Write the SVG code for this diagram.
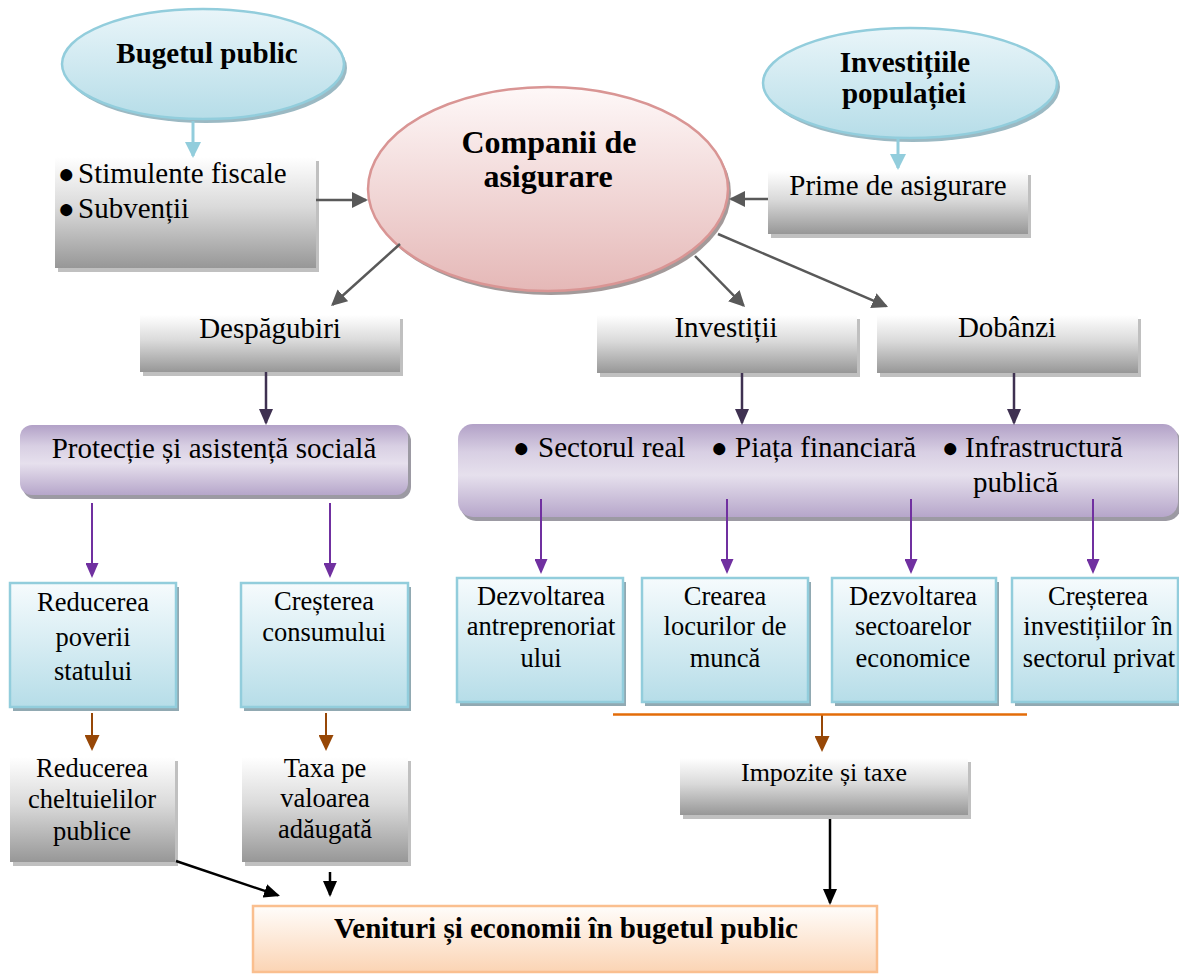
<svg xmlns="http://www.w3.org/2000/svg" width="1179" height="974" viewBox="0 0 1179 974">
  <defs>
    <linearGradient id="gGray" x1="0" y1="0" x2="0" y2="1">
      <stop offset="0" stop-color="#ffffff"/>
      <stop offset="0.45" stop-color="#dadada"/>
      <stop offset="1" stop-color="#979797"/>
    </linearGradient>
    <linearGradient id="gBlue" x1="0" y1="0" x2="0" y2="1">
      <stop offset="0" stop-color="#f6fbfd"/>
      <stop offset="1" stop-color="#b6dde8"/>
    </linearGradient>
    <linearGradient id="gBlueEll" x1="0" y1="0" x2="0" y2="1">
      <stop offset="0" stop-color="#e9f5f9"/>
      <stop offset="1" stop-color="#b6dde8"/>
    </linearGradient>
    <linearGradient id="gPink" x1="0" y1="0" x2="0" y2="1">
      <stop offset="0" stop-color="#fef8f8"/>
      <stop offset="1" stop-color="#e5b8b7"/>
    </linearGradient>
    <linearGradient id="gPurple" x1="0" y1="0" x2="0" y2="1">
      <stop offset="0" stop-color="#b2a1c7"/>
      <stop offset="0.3" stop-color="#d8cfe3"/>
      <stop offset="0.55" stop-color="#e6e0ed"/>
      <stop offset="1" stop-color="#b6a6ca"/>
    </linearGradient>
    <linearGradient id="gPeach" x1="0" y1="0" x2="0" y2="1">
      <stop offset="0" stop-color="#fffdfb"/>
      <stop offset="1" stop-color="#fbd4b4"/>
    </linearGradient>

    <marker id="aBlue" markerUnits="userSpaceOnUse" markerWidth="16" markerHeight="16" refX="14" refY="8" orient="auto">
      <path d="M0,0 L16,8 L0,16 z" fill="#92cddc"/>
    </marker>
    <marker id="aGray" markerUnits="userSpaceOnUse" markerWidth="16" markerHeight="16" refX="14" refY="8" orient="auto">
      <path d="M0,0 L16,8 L0,16 z" fill="#595959"/>
    </marker>
    <marker id="aDark" markerUnits="userSpaceOnUse" markerWidth="16" markerHeight="14" refX="14" refY="7" orient="auto">
      <path d="M0,0 L16,7 L0,14 z" fill="#3f3151"/>
    </marker>
    <marker id="aViolet" markerUnits="userSpaceOnUse" markerWidth="15" markerHeight="13" refX="13" refY="6.5" orient="auto">
      <path d="M0,0 L15,6.5 L0,13 z" fill="#7030a0"/>
    </marker>
    <marker id="aBrown" markerUnits="userSpaceOnUse" markerWidth="16" markerHeight="15" refX="14" refY="7.5" orient="auto">
      <path d="M0,0 L16,7.5 L0,15 z" fill="#974706"/>
    </marker>
    <marker id="aBlack" markerUnits="userSpaceOnUse" markerWidth="16" markerHeight="14" refX="14" refY="7" orient="auto">
      <path d="M0,0 L16,7 L0,14 z" fill="#000000"/>
    </marker>
  </defs>

  <style>
    text { font-family: "Liberation Serif", "Times New Roman", serif; fill: #000; }
    .t { font-size: 29px; }
    .s { font-size: 26.5px; }
    .b { font-size: 29px; font-weight: bold; }
    .c { text-anchor: middle; }
    .bul { font-size: 28px; }
    .grayBox { fill: url(#gGray); }
    .grayShadow { fill: #c0c0c0; }
    .blueBox { fill: url(#gBlue); stroke: #92cddc; stroke-width: 2.5; }
    .blueShadow { fill: #91a9b2; }
    .purpleBox { fill: url(#gPurple); }
    .purpleShadow { fill: #9c9aa3; }
    .conn { fill: none; }
  </style>

  <!-- top sources -->
  <g id="bugetul-public">
    <ellipse cx="206" cy="68" rx="141" ry="55" fill="#9bb9c3"/>
    <ellipse cx="203" cy="64" rx="141" ry="55" fill="url(#gBlueEll)" stroke="#92cddc" stroke-width="2.5"/>
    <text class="b c" x="207" y="63">Bugetul public</text>
  </g>

  <g id="investitiile-populatiei">
    <ellipse cx="913" cy="87" rx="147" ry="55" fill="#9bb9c3"/>
    <ellipse cx="910" cy="83" rx="147" ry="55" fill="url(#gBlueEll)" stroke="#92cddc" stroke-width="2.5"/>
    <text class="b c" x="905" y="72">Investițiile</text>
    <text class="b c" x="904" y="103">populației</text>
  </g>

  <g id="companii-de-asigurare">
    <ellipse cx="551" cy="193" rx="180" ry="102" fill="#a39a9a"/>
    <ellipse cx="548" cy="189" rx="180" ry="102" fill="url(#gPink)" stroke="#d99594" stroke-width="2.5"/>
    <text class="b c" x="549" y="153" style="font-size:32px">Companii de</text>
    <text class="b c" x="548" y="187" style="font-size:32px">asigurare</text>
  </g>

  <g id="stimulente">
    <rect class="grayShadow" x="58" y="161" width="261" height="111"/>
    <rect class="grayBox" x="55" y="157" width="261" height="111"/>
    <text class="t" y="183"><tspan class="bul" x="58">●</tspan><tspan x="78">Stimulente fiscale</tspan></text>
    <text class="t" y="218"><tspan class="bul" x="58">●</tspan><tspan x="78">Subvenții</tspan></text>
  </g>

  <g id="prime-de-asigurare">
    <rect class="grayShadow" x="771" y="175" width="260" height="63"/>
    <rect class="grayBox" x="768" y="171" width="260" height="63"/>
    <text class="t c" x="898" y="195">Prime de asigurare</text>
  </g>

  <!-- flows out of the insurers -->
  <g id="despagubiri">
    <rect class="grayShadow" x="143" y="319" width="260" height="57"/>
    <rect class="grayBox" x="140" y="315" width="260" height="57"/>
    <text class="t c" x="270" y="338">Despăgubiri</text>
  </g>

  <g id="investitii">
    <rect class="grayShadow" x="600" y="319" width="260" height="58"/>
    <rect class="grayBox" x="597" y="315" width="260" height="58"/>
    <text class="t c" x="726" y="337">Investiții</text>
  </g>

  <g id="dobanzi">
    <rect class="grayShadow" x="880" y="319" width="261" height="58"/>
    <rect class="grayBox" x="877" y="315" width="261" height="58"/>
    <text class="t c" x="1007" y="337">Dobânzi</text>
  </g>

  <g id="protectie-sociala">
    <rect class="purpleShadow" x="23" y="429" width="388" height="70" rx="12"/>
    <rect class="purpleBox" x="20" y="425" width="388" height="70" rx="12"/>
    <text class="t c" x="214" y="458">Protecție și asistență socială</text>
  </g>

  <g id="directii-investitii">
    <rect class="purpleShadow" x="461" y="428" width="720" height="93" rx="15"/>
    <rect class="purpleBox" x="458" y="424" width="720" height="93" rx="15"/>
    <text class="t" y="457"><tspan class="bul" x="513">●</tspan><tspan x="538">Sectorul real</tspan><tspan class="bul" x="711">●</tspan><tspan x="735">Piața financiară</tspan><tspan class="bul" x="942">●</tspan><tspan x="965">Infrastructură</tspan></text>
    <text class="t" x="973" y="492">publică</text>
  </g>

  <!-- effects -->
  <g id="reducerea-poverii">
    <rect class="blueShadow" x="13" y="587" width="166" height="124"/>
    <rect class="blueBox" x="10" y="583" width="166" height="124"/>
    <text class="s c" x="93" y="611">Reducerea</text>
    <text class="s c" x="93" y="646">poverii</text>
    <text class="s c" x="93" y="680">statului</text>
  </g>

  <g id="cresterea-consumului">
    <rect class="blueShadow" x="244" y="587" width="167" height="124"/>
    <rect class="blueBox" x="241" y="583" width="167" height="124"/>
    <text class="s c" x="324" y="610">Creșterea</text>
    <text class="s c" x="324" y="641">consumului</text>
  </g>

  <g id="dezvoltarea-antreprenoriatului">
    <rect class="blueShadow" x="460" y="582" width="166" height="124"/>
    <rect class="blueBox" x="457" y="578" width="166" height="124"/>
    <text class="s c" x="541" y="605">Dezvoltarea</text>
    <text class="s c" x="541" y="635">antreprenoriat</text>
    <text class="s c" x="541" y="667">ului</text>
  </g>

  <g id="crearea-locurilor">
    <rect class="blueShadow" x="645" y="582" width="166" height="124"/>
    <rect class="blueBox" x="642" y="578" width="166" height="124"/>
    <text class="s c" x="725" y="605">Crearea</text>
    <text class="s c" x="725" y="635">locurilor de</text>
    <text class="s c" x="725" y="667">muncă</text>
  </g>

  <g id="dezvoltarea-sectoarelor">
    <rect class="blueShadow" x="835" y="582" width="164" height="124"/>
    <rect class="blueBox" x="832" y="578" width="164" height="124"/>
    <text class="s c" x="913" y="605">Dezvoltarea</text>
    <text class="s c" x="913" y="635">sectoarelor</text>
    <text class="s c" x="913" y="667">economice</text>
  </g>

  <g id="cresterea-investitiilor">
    <rect class="blueShadow" x="1015" y="582" width="166" height="124"/>
    <rect class="blueBox" x="1012" y="578" width="166" height="124"/>
    <text class="s c" x="1098" y="605">Creșterea</text>
    <text class="s c" x="1098" y="635">investițiilor în</text>
    <text class="s c" x="1099" y="667">sectorul privat</text>
  </g>

  <g id="reducerea-cheltuielilor">
    <rect class="grayShadow" x="13" y="761" width="165" height="105"/>
    <rect class="grayBox" x="10" y="757" width="165" height="105"/>
    <text class="s c" x="92" y="777">Reducerea</text>
    <text class="s c" x="92" y="808">cheltuielilor</text>
    <text class="s c" x="92" y="840">publice</text>
  </g>

  <g id="taxa-valoare-adaugata">
    <rect class="grayShadow" x="245" y="761" width="166" height="105"/>
    <rect class="grayBox" x="242" y="757" width="166" height="105"/>
    <text class="s c" x="325" y="777">Taxa pe</text>
    <text class="s c" x="325" y="807">valoarea</text>
    <text class="s c" x="325" y="838">adăugată</text>
  </g>

  <g id="impozite-taxe">
    <rect class="grayShadow" x="683" y="762" width="288" height="57"/>
    <rect class="grayBox" x="680" y="758" width="288" height="57"/>
    <text class="c" x="824" y="781" style="font-size:26px">Impozite și taxe</text>
  </g>

  <g id="venituri-buget">
    <rect x="253" y="906" width="624" height="66" fill="url(#gPeach)" stroke="#fabf8f" stroke-width="2.5"/>
    <text class="b c" x="566" y="938">Venituri și economii în bugetul public</text>
  </g>

  <!-- connectors -->
  <g id="connectors" class="conn">
    <g stroke="#92cddc" stroke-width="3">
      <path d="M193,121 L193,156" marker-end="url(#aBlue)"/>
      <path d="M898,138 L898,168" marker-end="url(#aBlue)"/>
    </g>
    <g stroke="#595959" stroke-width="2.5">
      <path d="M316,200 L366,200" marker-end="url(#aGray)"/>
      <path d="M768,199 L731,199" marker-end="url(#aGray)"/>
      <path d="M400,244 L332.5,304.7" marker-end="url(#aGray)"/>
      <path d="M695,256 L743.6,305.6" marker-end="url(#aGray)"/>
      <path d="M718,234 L886.2,306.2" marker-end="url(#aGray)"/>
    </g>
    <g stroke="#3f3151" stroke-width="2.5">
      <path d="M266,372 L266,423" marker-end="url(#aDark)"/>
      <path d="M742,373 L742,423" marker-end="url(#aDark)"/>
      <path d="M1014,373 L1014,423" marker-end="url(#aDark)"/>
    </g>
    <g stroke="#7030a0" stroke-width="2">
      <path d="M92,503 L92,576" marker-end="url(#aViolet)"/>
      <path d="M330,503 L330,576" marker-end="url(#aViolet)"/>
      <path d="M541,499 L541,572" marker-end="url(#aViolet)"/>
      <path d="M727,499 L727,572" marker-end="url(#aViolet)"/>
      <path d="M911,499 L911,572" marker-end="url(#aViolet)"/>
      <path d="M1093,499 L1093,572" marker-end="url(#aViolet)"/>
    </g>
    <g stroke="#974706" stroke-width="2">
      <path d="M92,713 L92,749" marker-end="url(#aBrown)"/>
      <path d="M326,713 L326,749" marker-end="url(#aBrown)"/>
      <path d="M822,715 L822,750" marker-end="url(#aBrown)"/>
    </g>
    <path d="M613,714.5 L1027,714.5" stroke="#e36c09" stroke-width="2.5"/>
    <g stroke="#000000" stroke-width="2.5">
      <path d="M176,861 L278.1,895.4" marker-end="url(#aBlack)"/>
      <path d="M330,872 L330,895" marker-end="url(#aBlack)"/>
      <path d="M830,819 L830,903" marker-end="url(#aBlack)"/>
    </g>
  </g>
</svg>
